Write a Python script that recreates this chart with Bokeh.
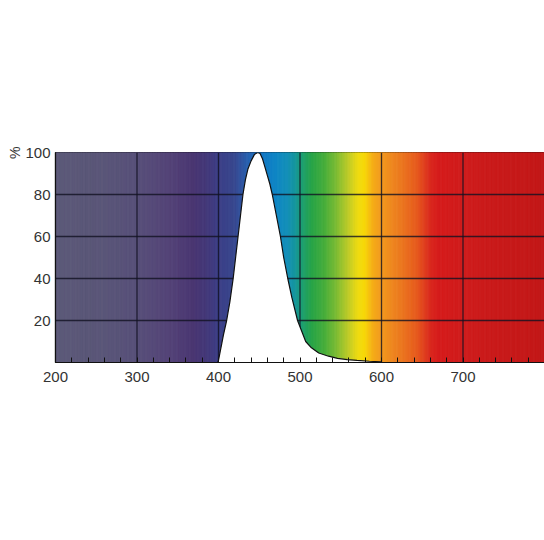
import numpy as np
from bokeh.plotting import figure
from bokeh.models import Range1d, FixedTicker, Label, Title
from bokeh.embed import file_html
from bokeh.resources import INLINE

# emission curve (relative intensity, %)
wavelength = [399, 400, 401, 402, 404, 406, 410, 414, 418, 421, 424, 427, 430, 433, 436,
              440, 444, 448, 451, 454, 457, 460, 463, 466, 471, 476, 480, 485, 490, 497,
              502, 507, 514, 523, 535, 546, 558, 570, 585, 600]
intensity = [0, 1, 3, 5, 9, 13, 20, 29, 40, 50, 60, 70, 80, 87, 92,
             96, 99, 100, 99.5, 97, 93, 89, 85, 80, 70, 60, 50, 40, 31, 20,
             15, 10, 7, 4.5, 3, 2, 1.4, 1, 0.6, 0.3]

# spectrum background colour anchors
spec_nm = [200, 260, 300, 340, 370, 390, 400, 420, 435, 455, 470, 485, 495, 505, 515,
           530, 545, 560, 572, 580, 590, 600, 625, 645, 660, 670, 720, 800]
spec_col = ["#5c5a78", "#5a5678", "#58507a", "#544478", "#4a3672", "#423a7c", "#3c3e86",
            "#38488f", "#2a5fae", "#1377c4", "#0f86c6", "#1490b8", "#16979a", "#1ea06a",
            "#28a448", "#46ae3c", "#7cbc34", "#c0cc28", "#f0dc10", "#f7d808", "#f5ac18",
            "#f29a1e", "#ec7820", "#e6581e", "#da2a1e", "#d61c1c", "#cc1c1c", "#c21818"]

x_ticks = [200, 300, 400, 500, 600, 700]
x_minor = [v for v in range(220, 800, 20) if v not in x_ticks]
y_ticks = [20, 40, 60, 80, 100]
x_grid = [300, 400, 500, 600, 700]
y_grid = [20, 40, 60, 80]

p = figure(width=544, height=532, output_backend="svg", toolbar_location=None,
           x_range=Range1d(200, 800), y_range=Range1d(0, 100),
           min_border_left=55, min_border_top=152, min_border_right=0,
           min_border_bottom=170, background_fill_color="white",
           border_fill_color="white")
p.xgrid.visible = False
p.ygrid.visible = False
p.outline_line_color = "#111111"
p.outline_line_width = 1.2

# spectrum strips
def hex2rgb(h):
    return [int(h[i:i + 2], 16) for i in (1, 3, 5)]

rgb = np.array([hex2rgb(c) for c in spec_col], dtype=float)
edges = np.arange(200, 801, 2)
centers = (edges[:-1] + edges[1:]) / 2
cols = []
for c in centers:
    r = np.interp(c, spec_nm, rgb[:, 0])
    g = np.interp(c, spec_nm, rgb[:, 1])
    b = np.interp(c, spec_nm, rgb[:, 2])
    cols.append("#%02x%02x%02x" % (int(r), int(g), int(b)))
p.quad(left=edges[:-1], right=edges[1:], bottom=0, top=100,
       fill_color=cols, line_color=cols, line_width=1)

# grid
p.segment(x0=x_grid, x1=x_grid, y0=0, y1=100, line_color="#111122",
          line_alpha=0.8, line_width=1.3)
p.segment(x0=200, x1=800, y0=y_grid, y1=y_grid, line_color="#111122",
          line_alpha=0.8, line_width=1.3)

# emission curve
p.patch(wavelength + [wavelength[-1]], intensity + [0], fill_color="white",
        line_color="#111111", line_width=1.2)

# axes
for ax in (p.xaxis[0], p.yaxis[0]):
    ax.axis_line_color = "#111111"
    ax.axis_line_width = 1.2
    ax.major_label_text_font = "Liberation Sans"
    ax.major_label_text_font_size = "15px"
    ax.major_label_text_color = "#333333"

p.xaxis.ticker = FixedTicker(ticks=x_ticks, minor_ticks=x_minor)
p.xaxis.major_tick_in = 5
p.xaxis.major_tick_out = 0
p.xaxis.minor_tick_in = 5
p.xaxis.minor_tick_out = 0
p.xaxis.major_tick_line_color = "#111111"
p.xaxis.minor_tick_line_color = "#111111"
p.xaxis.major_label_standoff = 9

p.yaxis.ticker = FixedTicker(ticks=y_ticks, minor_ticks=[])
p.yaxis.major_tick_in = 0
p.yaxis.major_tick_out = 0
p.yaxis.major_label_standoff = 5

p.add_layout(Label(x=759, y=-8.6, text="λ [nm]", text_font="Liberation Sans",
                   text_font_size="15px", text_color="#333333",
                   text_align="center", text_baseline="middle"))
p.add_layout(Title(text="%", align="right", text_font="Liberation Sans",
                   text_font_size="14px", text_font_style="normal",
                   text_color="#333333", offset=-6, standoff=0), "left")

open("out.html", "w").write(file_html(p, INLINE))
